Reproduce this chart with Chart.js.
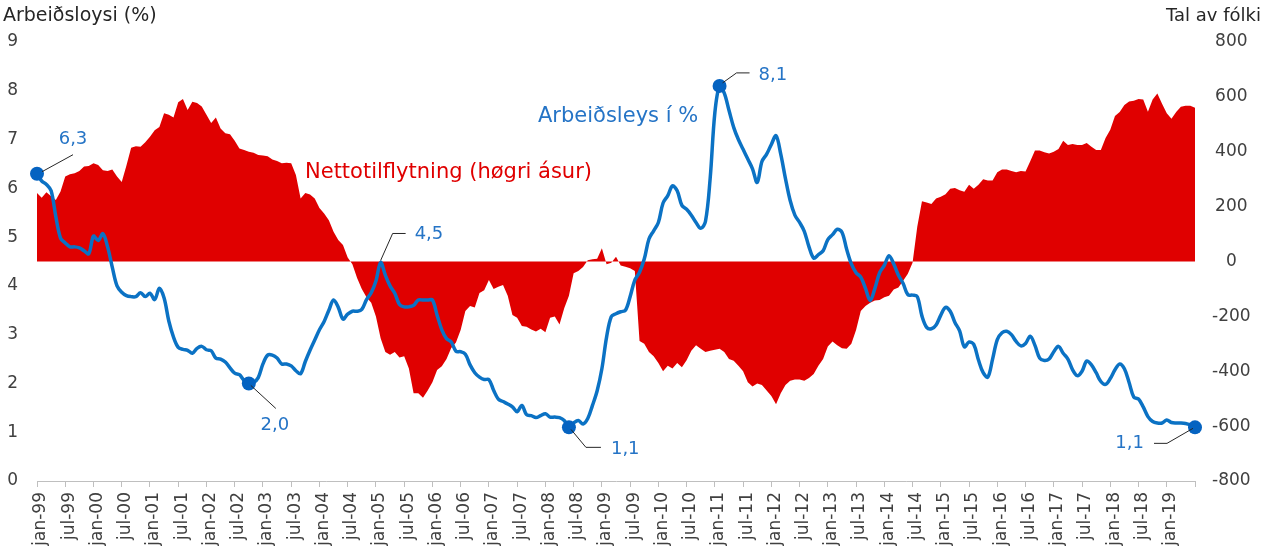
<!DOCTYPE html>
<html>
<head>
<meta charset="utf-8">
<script src="https://cdn.jsdelivr.net/npm/chart.js@4.4.0/dist/chart.umd.min.js"></script>
<style>
  html, body { margin: 0; padding: 0; background: #fff; }
  #wrap { width: 1269px; height: 559px; position: relative; }
</style>
</head>
<body>
<div id="wrap"><canvas id="chart"></canvas></div>
<script>
// months jan-99 .. jul-19
const monthNames = ['jan','feb','mar','apr','mai','jun','jul','aug','sep','okt','nov','des'];
const yearNames = ['99','00','01','02','03','04','05','06','07','08','09','10','11','12','13','14','15','16','17','18','19'];
const labels = [];
yearNames.forEach(y => monthNames.forEach(m => labels.push(m + '-' + y)));
labels.length = 247;

// Arbeiðsloysi (%), one row per year
const unemployment = [
  6.3, 6.15, 6.08, 5.95, 5.42, 4.98, 4.88, 4.8, 4.8, 4.78, 4.72, 4.66,
  5.02, 4.93, 5.07, 4.8, 4.38, 4.0, 3.87, 3.8, 3.78, 3.78, 3.86, 3.78,
  3.85, 3.72, 3.95, 3.75, 3.28, 2.95, 2.74, 2.7, 2.68, 2.62, 2.72, 2.76,
  2.69, 2.67, 2.52, 2.5, 2.44, 2.32, 2.21, 2.18, 2.06, 2.0, 2.02, 2.12,
  2.4, 2.58, 2.58, 2.52, 2.4, 2.4, 2.36, 2.26, 2.2, 2.45, 2.68, 2.89,
  3.1, 3.27, 3.5, 3.71, 3.56, 3.32, 3.42, 3.48, 3.48, 3.52, 3.72, 3.86,
  4.1, 4.48, 4.22, 4.0, 3.85, 3.62, 3.57, 3.57, 3.6, 3.71, 3.71, 3.71,
  3.71, 3.4, 3.1, 2.92, 2.85, 2.66, 2.65, 2.6, 2.38, 2.22, 2.13, 2.08,
  2.08, 1.86, 1.68, 1.63, 1.58, 1.52, 1.42, 1.55, 1.36, 1.34, 1.3, 1.34,
  1.38, 1.31, 1.31, 1.3, 1.24, 1.1, 1.19, 1.24, 1.17, 1.28, 1.55, 1.85,
  2.3, 2.95, 3.37, 3.43, 3.47, 3.5, 3.78, 4.12, 4.28, 4.55, 4.96, 5.13,
  5.3, 5.7, 5.85, 6.05, 5.95, 5.65, 5.57, 5.45, 5.3, 5.18, 5.32, 6.2,
  7.55, 8.1, 7.95, 7.6, 7.25, 7.0, 6.8, 6.6, 6.4, 6.12, 6.55, 6.7,
  6.9, 7.08, 6.7, 6.2, 5.75, 5.45, 5.3, 5.12, 4.8, 4.57, 4.64, 4.72,
  4.95, 5.05, 5.16, 5.1, 4.75, 4.45, 4.27, 4.18, 3.95, 3.7, 3.95, 4.27,
  4.42, 4.62, 4.45, 4.22, 4.05, 3.82, 3.81, 3.78, 3.38, 3.15, 3.12, 3.2,
  3.4, 3.56, 3.48, 3.25, 3.08, 2.75, 2.85, 2.8, 2.48, 2.22, 2.13, 2.5,
  2.9, 3.04, 3.07, 3.0, 2.86, 2.77, 2.82, 2.97, 2.78, 2.52, 2.47, 2.5,
  2.65, 2.76, 2.62, 2.5, 2.28, 2.16, 2.25, 2.46, 2.38, 2.22, 2.04, 1.98,
  2.1, 2.28, 2.4, 2.3, 2.02, 1.72, 1.68, 1.52, 1.32, 1.22, 1.19, 1.19,
  1.25, 1.2, 1.19, 1.19, 1.18, 1.15, 1.1
];

// Nettotilflytning, tal av fólki (høgri ásur)
const migration = [
  250, 232, 252, 238, 224, 255, 310, 318, 322, 330, 346, 348,
  358, 352, 333, 330, 335, 310, 290, 350, 415, 420, 418, 435,
  455, 478, 490, 540, 535, 525, 580, 592, 552, 582, 578, 565,
  535, 505, 525, 485, 467, 464, 440, 412, 406, 400, 396, 388,
  386, 384, 372, 366, 358, 360, 358, 315, 230, 250, 244, 230,
  195, 175, 150, 108, 78, 60, 15, -10, -60, -100, -130, -150,
  -200, -280, -330, -340, -330, -350, -345, -390, -480, -480, -497, -470,
  -440, -395, -382, -355, -315, -295, -250, -180, -162, -168, -115, -105,
  -67, -100, -92, -86, -125, -195, -205, -235, -238, -248, -255, -245,
  -258, -205, -200, -230, -170, -125, -43, -35, -20, 5, 8, 10,
  48, -10, -5, 17, -15, -19, -25, -35, -290, -300, -330, -345,
  -370, -400, -380, -390, -370, -385, -360, -325, -305, -318, -330, -325,
  -322, -318, -330, -355, -362, -380, -400, -440, -456, -445, -450, -470,
  -490, -520, -480, -450, -435, -430, -430, -435, -425, -410, -380, -355,
  -310, -292, -305, -316, -318, -300, -250, -180, -162, -150, -142, -140,
  -130, -125, -102, -95, -70, -45, -5, 127, 220, 215, 210, 230,
  236, 245, 265, 268, 260, 254, 280, 265, 280, 300, 295, 295,
  325, 335, 335, 330, 325, 330, 328, 365, 405, 405, 398, 394,
  400, 410, 440, 425, 428, 425, 425, 432, 418, 406, 406, 450,
  480, 530, 545, 570, 583, 586, 592, 590, 546, 590, 612, 575,
  540, 520, 545, 564, 568, 568, 560
];

// months that get a marker / value label
const markedPoints = [0, 45, 113, 145, 246];
const labelledPoints = [
  { idx: 0, text: '6,3', path: [[5, -2], [36, -19]], tx: 36, ty: -34, align: 'center' },
  { idx: 45, text: '2,0', path: [[2, 2], [27, 25]], tx: 26, ty: 42, align: 'center' },
  { idx: 73, text: '4,5', path: [[0, -2], [12, -29], [25, -29]], tx: 34, ty: -28, align: 'left' },
  { idx: 113, text: '1,1', path: [[2, 2], [17, 20], [32, 20]], tx: 42, ty: 22, align: 'left' },
  { idx: 145, text: '8,1', path: [[3, -3], [17, -13], [30, -13]], tx: 39, ty: -11, align: 'left' },
  { idx: 246, text: '1,1', path: [[-2, 1], [-28, 16], [-41, 16]], tx: -51, ty: 16, align: 'right' }
];

const FONT = '"DejaVu Sans", Verdana, sans-serif';
const BLUE = '#0B72C4';
const BLUE_TEXT = '#2574C6';
const RED = '#E00000';

const annotations = {
  id: 'annotations',
  afterDatasetsDraw(chart) {
    const ctx = chart.ctx;
    const x = chart.scales.x, y = chart.scales.y;
    ctx.save();
    labelledPoints.forEach(p => {
      const px = x.getPixelForValue(p.idx);
      const py = y.getPixelForValue(unemployment[p.idx]);
      ctx.strokeStyle = '#262626';
      ctx.lineWidth = 1;
      ctx.beginPath();
      p.path.forEach((pt, i) => {
        if (i === 0) ctx.moveTo(px + pt[0], py + pt[1]);
        else ctx.lineTo(px + pt[0], py + pt[1]);
      });
      ctx.stroke();
      ctx.fillStyle = BLUE_TEXT;
      ctx.font = '18px ' + FONT;
      ctx.textAlign = p.align;
      ctx.textBaseline = 'middle';
      ctx.fillText(p.text, px + p.tx, py + p.ty);
    });

    // series names
    ctx.textAlign = 'left';
    ctx.textBaseline = 'middle';
    ctx.font = '21px ' + FONT;
    ctx.fillStyle = BLUE_TEXT;
    ctx.fillText('Arbeiðsleys í %', 538, 117);
    ctx.fillStyle = RED;
    ctx.fillText('Nettotilflytning (høgri ásur)', 305, 173);

    // axis titles
    ctx.font = '19px ' + FONT;
    ctx.fillStyle = '#262626';
    ctx.fillText('Arbeiðsloysi (%)', 3, 16);
    ctx.font = '18px ' + FONT;
    ctx.textAlign = 'right';
    ctx.fillText('Tal av fólki', 1261, 16);
    ctx.restore();
  }
};

new Chart(document.getElementById('chart'), {
  type: 'line',
  data: {
    labels: labels,
    datasets: [
      {
        label: 'Arbeiðsleys í %',
        data: unemployment,
        yAxisID: 'y',
        borderColor: BLUE,
        borderWidth: 3.5,
        tension: 0.35,
        fill: false,
        clip: false,
        pointRadius: ctx => markedPoints.includes(ctx.dataIndex) ? 7 : 0,
        pointBackgroundColor: '#0563C1',
        pointBorderWidth: 0,
        order: 0
      },
      {
        label: 'Nettotilflytning (høgri ásur)',
        data: migration,
        yAxisID: 'y2',
        borderColor: 'rgba(0,0,0,0)',
        borderWidth: 0,
        backgroundColor: RED,
        fill: 'origin',
        tension: 0,
        pointRadius: 0,
        order: 1
      }
    ]
  },
  options: {
    responsive: true,
    maintainAspectRatio: false,
    animation: false,
    layout: { padding: { top: 42, left: 0, right: 0, bottom: 0 } },
    plugins: {
      legend: { display: false },
      tooltip: { enabled: false }
    },
    scales: {
      x: {
        offset: false,
        grid: {
          display: true,
          drawOnChartArea: false,
          drawTicks: true,
          tickLength: 6,
          color: ctx => ctx.index % 6 === 0 ? '#bfbfbf' : 'rgba(0,0,0,0)'
        },
        border: { display: true, color: '#bfbfbf', width: 1 },
        ticks: {
          autoSkip: false,
          maxRotation: 90,
          minRotation: 90,
          padding: 5,
          labelOffset: 4,
          color: '#404040',
          font: { family: FONT, size: 17 },
          callback: function(val, idx) {
            return (idx % 6 === 0 && idx < 246) ? this.getLabelForValue(val) : '';
          }
        },
        afterFit: scale => { scale.height = 78; }
      },
      y: {
        position: 'left',
        min: 0,
        max: 9,
        grid: { display: false, drawTicks: false },
        border: { display: false },
        ticks: {
          stepSize: 1,
          padding: 19,
          color: '#404040',
          font: { family: FONT, size: 17 }
        },
        afterFit: scale => { scale.width = 37; }
      },
      y2: {
        position: 'right',
        min: -800,
        max: 800,
        grid: { display: false, drawTicks: false },
        border: { display: false },
        ticks: {
          stepSize: 200,
          padding: 17,
          crossAlign: 'center',
          color: '#404040',
          font: { family: FONT, size: 17 }
        },
        afterFit: scale => { scale.width = 74; }
      }
    }
  },
  plugins: [annotations]
});
</script>
</body>
</html>
